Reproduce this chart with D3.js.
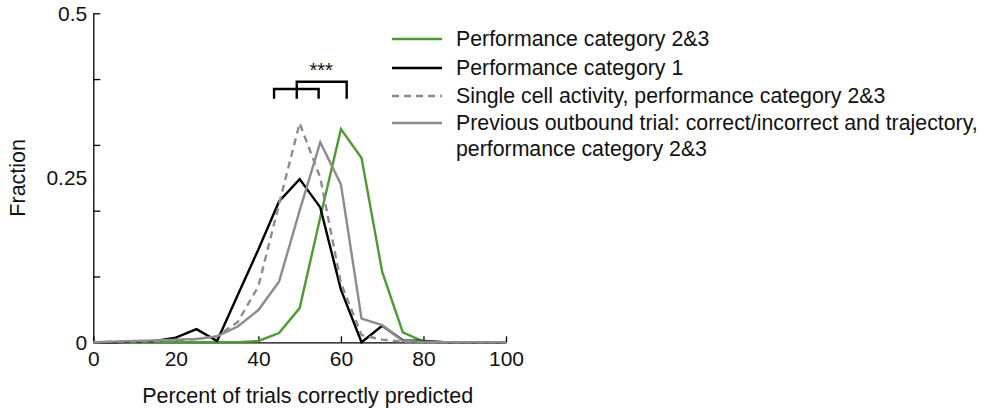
<!DOCTYPE html>
<html>
<head>
<meta charset="utf-8">
<script src="https://cdn.jsdelivr.net/npm/d3@7"></script>
<style>
  body { margin: 0; background: #fff; }
  text { font-family: "Liberation Sans", Arial, sans-serif; fill: #111; }
</style>
</head>
<body>
<div id="chart"></div>
<script>
// --- DATA (fraction of sessions per 5% bin) ---
const BINS = [0, 5, 10, 15, 20, 25, 30, 35, 40, 45, 50, 55, 60, 65, 70, 75, 80, 85, 90, 95, 100];
const perf23 =     [0, 0, 0, 0, 0, 0, 0, 0, 0.002, 0.014, 0.052, 0.19, 0.324, 0.28, 0.107, 0.015, 0.001, 0, 0, 0, 0];
const perf1 =      [0, 0, 0.001, 0.002, 0.007, 0.02, 0.002, 0.072, 0.141, 0.214, 0.248, 0.205, 0.08, 0, 0.025, 0.003, 0.002, 0, 0, 0, 0];
const singleCell = [0, 0.001, 0.001, 0.002, 0.003, 0.005, 0.009, 0.031, 0.085, 0.21, 0.333, 0.25, 0.09, 0.011, 0.004, 0.001, 0, 0, 0, 0, 0];
const prevTrial =  [0, 0.001, 0.002, 0.003, 0.004, 0.005, 0.009, 0.024, 0.049, 0.092, 0.2, 0.304, 0.24, 0.036, 0.026, 0.002, 0.001, 0, 0, 0, 0];

const SERIES = [
  {name: "Performance category 2&3", values: perf23, color: "#4e9a34", dash: null},
  {name: "Performance category 1", values: perf1, color: "#000000", dash: null},
  {name: "Single cell activity, performance category 2&3", values: singleCell, color: "#8c8c8c", dash: "7,5"},
  {name: "Previous outbound trial: correct/incorrect and trajectory,|performance category 2&3", values: prevTrial, color: "#8c8c8c", dash: null}
];

const X_TICKS = [0, 20, 40, 60, 80, 100];
const Y_TICKS = [0, 0.1, 0.2, 0.3, 0.4, 0.5];
const Y_LABELS = [0, 0.25, 0.5];

// significance brackets [left, right, top, bottom] in data units
const BRACKETS = [
  [43.8, 54.6, 0.385, 0.37],
  [49.3, 61.4, 0.396, 0.37]
];

// --- SETUP ---
const width = 984, height = 409;
const FONT = "21px";
const svg = d3.select("#chart").append("svg")
  .attr("width", width).attr("height", height);

const x = d3.scaleLinear().domain([0, 100]).range([93.3, 506]);
const y = d3.scaleLinear().domain([0, 0.5]).range([342.3, 13.3]);

// axes
const xAxis = svg.append("g")
  .attr("transform", `translate(0,${y(0)})`)
  .call(d3.axisBottom(x).tickValues(X_TICKS).tickSizeInner(-6).tickSizeOuter(0).tickPadding(9));
const yAxis = svg.append("g")
  .attr("transform", `translate(${x(0)},0)`)
  .call(d3.axisLeft(y).tickValues(Y_TICKS).tickSizeInner(-7).tickSizeOuter(0).tickFormat(""));

[xAxis, yAxis].forEach(g => {
  g.select(".domain").attr("stroke", "#000").attr("stroke-width", 1.3);
  g.selectAll(".tick line").attr("stroke", "#000").attr("stroke-width", 1.3);
});
xAxis.selectAll(".tick text").style("font-size", FONT).attr("fill", "#111");
xAxis.selectAll(".tick line").attr("y2", -6);

// y labels (only 0, 0.25, 0.5)
svg.append("g").selectAll("text")
  .data(Y_LABELS).enter().append("text")
  .attr("x", x(0) - 6)
  .attr("y", d => y(d))
  .attr("dy", "0.35em")
  .attr("text-anchor", "end")
  .style("font-size", FONT)
  .text(d => d);

// axis titles
svg.append("text")
  .attr("x", (x(0) + x(100)) / 2 + 8)
  .attr("y", 403)
  .attr("text-anchor", "middle")
  .style("font-size", "21.5px")
  .text("Percent of trials correctly predicted");

svg.append("text")
  .attr("transform", `translate(25,${y(0.25)}) rotate(-90)`)
  .attr("text-anchor", "middle")
  .style("font-size", "21.5px")
  .text("Fraction");

// --- LINES ---
const line = d3.line()
  .x((d, i) => x(BINS[i]))
  .y(d => y(d));

svg.append("g").selectAll("path")
  .data(SERIES).enter().append("path")
  .attr("d", d => line(d.values))
  .attr("fill", "none")
  .attr("stroke", d => d.color)
  .attr("stroke-width", 2.4)
  .attr("stroke-dasharray", d => d.dash)
  .attr("stroke-linejoin", "miter");

// --- SIGNIFICANCE BRACKETS ---
svg.append("g").selectAll("path")
  .data(BRACKETS).enter().append("path")
  .attr("d", d => `M${x(d[0])},${y(d[3])}V${y(d[2])}H${x(d[1])}V${y(d[3])}`)
  .attr("fill", "none")
  .attr("stroke", "#000")
  .attr("stroke-width", 2.4);

svg.append("text")
  .attr("x", x(55.2))
  .attr("y", 77)
  .attr("text-anchor", "middle")
  .style("font-size", "20px")
  .text("***");

// --- LEGEND ---
const legendY = [39, 68, 96, 123];
const legend = svg.append("g").selectAll("g")
  .data(SERIES).enter().append("g")
  .attr("transform", (d, i) => `translate(392,${legendY[i]})`);

legend.append("line")
  .attr("x1", 0).attr("x2", 50)
  .attr("stroke", d => d.color)
  .attr("stroke-width", 2.4)
  .attr("stroke-dasharray", d => d.dash);

legend.append("text")
  .attr("x", 64)
  .style("font-size", "21.3px")
  .each(function(d) {
    const parts = d.name.split("|");
    d3.select(this).selectAll("tspan")
      .data(parts).enter().append("tspan")
      .attr("x", 64)
      .attr("dy", (p, i) => i === 0 ? "0.35em" : "1.2em")
      .text(p => p);
  });
</script>
</body>
</html>
